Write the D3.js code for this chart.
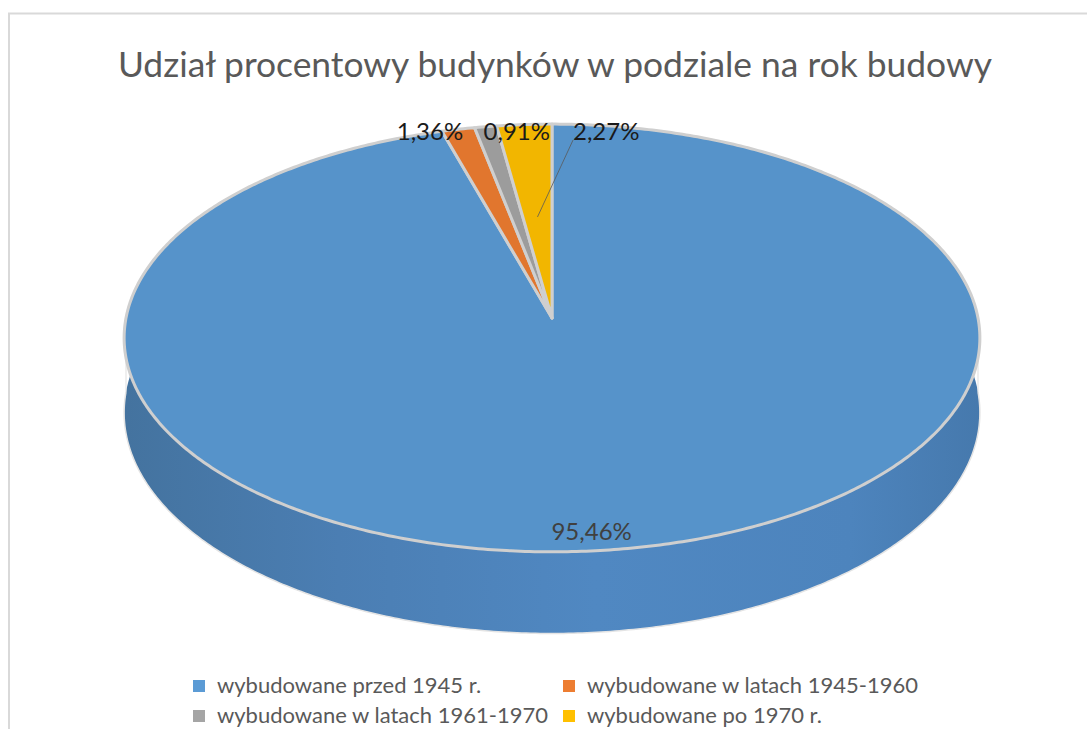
<!DOCTYPE html>
<html>
<head>
<meta charset="utf-8">
<script src="https://cdn.jsdelivr.net/npm/d3@7"></script>
<style>
  body { margin: 0; background: #fff; }
  svg { display: block; }
  text { font-family: Lato, "Open Sans", sans-serif; }
</style>
</head>
<body>
<div id="chart"><svg id="pieSVG"></svg></div>
<script>
var categories = ["wybudowane przed 1945 r.", "wybudowane w latach 1945-1960",
                  "wybudowane w latach 1961-1970", "wybudowane po 1970 r."];
var values = [95.46, 1.36, 0.91, 2.27];
var labels = ["95,46%", "1,36%", "0,91%", "2,27%"];
var colors = ["#5B9BD5", "#ED7D31", "#A5A5A5", "#FFC000"];
var title = "Udział procentowy budynków w podziale na rok budowy";

var width = 1087, height = 729;
var svg = d3.select("#pieSVG").attr("width", width).attr("height", height);

// frame of the chart area
svg.append("rect")
    .attr("x", 9).attr("y", 13.5)
    .attr("width", 1200).attr("height", 900)
    .attr("fill", "none")
    .attr("stroke", "#d9d9d9")
    .attr("stroke-width", 2);

svg.append("text")
    .text(title)
    .attr("x", 555).attr("y", 77)
    .attr("text-anchor", "middle")
    .attr("font-size", "35.4px")
    .attr("fill", "#595959");

// 3d pie geometry (perspective tilt)
var cx = 552, cy = 318, A = 426, B = 212, persp = 0.0934, depth = 74;

function proj(theta, r, h){
    var X = r * Math.sin(theta), Z = r * Math.cos(theta);
    var w = 1 + persp * Z;
    return [cx + A * X / w, cy - B * Z / w + h / w];
}

function arcPoints(a0, a1, r, h){
    var n = Math.max(2, Math.ceil((a1 - a0) / 0.01));
    var pts = [];
    for (var i = 0; i <= n; i++) pts.push(proj(a0 + (a1 - a0) * i / n, r, h));
    return pts;
}

var pie = d3.pie().sort(null).value(function(d){ return d; })
    .startAngle(0).endAngle(2 * Math.PI);
var arcs = pie(values);
var line = d3.line();

var defs = svg.append("defs");
var grad = defs.append("linearGradient")
    .attr("id", "wallGrad")
    .attr("gradientUnits", "userSpaceOnUse")
    .attr("x1", cx - A).attr("x2", cx + A).attr("y1", 0).attr("y2", 0);
grad.append("stop").attr("offset", "0%").attr("stop-color", "#44739f");
grad.append("stop").attr("offset", "25%").attr("stop-color", "#4b7eb3");
grad.append("stop").attr("offset", "55%").attr("stop-color", "#5088c2");
grad.append("stop").attr("offset", "85%").attr("stop-color", "#4d84bd");
grad.append("stop").attr("offset", "100%").attr("stop-color", "#4679ad");

// front walls
var frontStart = Math.PI / 2 - 0.12, frontEnd = 3 * Math.PI / 2 + 0.12;
var wallG = svg.append("g");
arcs.forEach(function(d, i){
    var a0 = Math.max(d.startAngle, frontStart), a1 = Math.min(d.endAngle, frontEnd);
    if (a1 <= a0) return;
    var top = arcPoints(a0, a1, 1, 0);
    var bottom = arcPoints(a0, a1, 1, depth).reverse();
    wallG.append("path")
        .attr("d", line(top.concat(bottom)) + "Z")
        .attr("fill", i === 0 ? "url(#wallGrad)" : d3.color(colors[i]).darker(0.5))
        .attr("stroke", "none");
});
// light rim under the wall
wallG.append("path")
    .attr("d", line(arcPoints(Math.PI / 2, 3 * Math.PI / 2, 1, depth)))
    .attr("fill", "none")
    .attr("stroke", "#e4e4e4")
    .attr("stroke-width", 1.5);
wallG.append("path")
    .attr("d", line([proj(Math.PI / 2, 1, 0), proj(Math.PI / 2, 1, depth)]) + "M" +
               line([proj(3 * Math.PI / 2, 1, 0), proj(3 * Math.PI / 2, 1, depth)]).slice(1))
    .attr("fill", "none")
    .attr("stroke", "#e4e4e4")
    .attr("stroke-width", 1.2);

// top faces
var topColors = colors.map(function(c){ return d3.color(c).darker(0.15); });
var topG = svg.append("g");
arcs.forEach(function(d, i){
    var pts = [proj(0, 0, 0)].concat(arcPoints(d.startAngle, d.endAngle, 1, 0));
    topG.append("path")
        .attr("d", line(pts) + "Z")
        .attr("fill", topColors[i])
        .attr("stroke", "#cfcfcf")
        .attr("stroke-width", 3)
        .attr("stroke-linejoin", "round");
});

// data labels
var labelG = svg.append("g");
var rimTop = proj(0, 1, 0)[1];
arcs.forEach(function(d, i){
    var mid = (d.startAngle + d.endAngle) / 2;
    var p = proj(mid, 1, 0);
    var t = labelG.append("text").text(labels[i]).attr("font-size", "24px");
    if (i === 0){
        var q = proj(mid, 0.93, 0);
        t.attr("x", q[0] - 22).attr("y", q[1] + 8)
         .attr("text-anchor", "middle").attr("fill", "#404040");
    } else if (i === 1){
        t.attr("x", p[0] + 5).attr("y", rimTop + 16)
         .attr("text-anchor", "end").attr("fill", "#1a1a1a");
    } else if (i === 2){
        t.attr("x", p[0] - 2).attr("y", rimTop + 16)
         .attr("text-anchor", "start").attr("fill", "#1a1a1a");
    } else {
        var lx = cx + 21, ly = rimTop + 16;
        t.attr("x", lx).attr("y", ly)
         .attr("text-anchor", "start").attr("fill", "#1a1a1a");
        var e = proj(mid, 0.5, 0);
        labelG.append("line")
            .attr("x1", lx).attr("y1", ly)
            .attr("x2", e[0]).attr("y2", e[1])
            .attr("stroke", "#595959").attr("stroke-width", 0.8);
    }
});

// legend
var legendX = [193, 563], legendY = [686, 716];
var legend = svg.append("g");
categories.forEach(function(c, i){
    var gx = legendX[i % 2], gy = legendY[Math.floor(i / 2)];
    legend.append("rect")
        .attr("x", gx).attr("y", gy - 6)
        .attr("width", 12).attr("height", 12)
        .attr("fill", colors[i]);
    legend.append("text")
        .text(c)
        .attr("x", gx + 24).attr("y", gy + 7)
        .attr("font-size", "22px")
        .attr("fill", "#595959");
});
</script>
</body>
</html>
